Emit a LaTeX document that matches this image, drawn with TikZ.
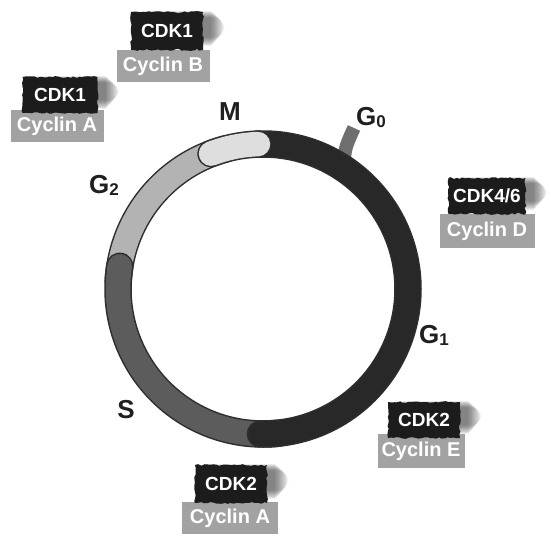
\documentclass[tikz,border=0pt]{standalone}
\usepackage{fontspec}
\setmainfont{Liberation Sans}
\usetikzlibrary{backgrounds,decorations.pathmorphing}
\definecolor{ringout}{HTML}{2E2E2E}
\definecolor{gone}{HTML}{282828}
\definecolor{sph}{HTML}{5C5C5C}
\definecolor{gtwo}{HTML}{B3B3B3}
\definecolor{mph}{HTML}{DEDEDE}
\definecolor{gzero}{HTML}{6E6E6E}
\definecolor{cdkbox}{HTML}{1C1C1C}
\definecolor{cycbox}{HTML}{A2A2A2}
\tikzset{
  phase/.style={font=\bfseries\fontsize{26}{26}\selectfont, text=black!88, inner sep=0pt},
  cdk/.style={fill=cdkbox, text=white, font=\bfseries\fontsize{19}{19}\selectfont, inner sep=0pt,
    decorate, decoration={random steps, segment length=3pt, amplitude=0.9pt}},
  cyc/.style={fill=cycbox, text=white, font=\bfseries\fontsize{20}{20}\selectfont, inner sep=0pt},
}
\newcommand{\ringseg}[3]{%
  \draw[line width=27.5pt, ringout, line cap=round] (#2:145pt) arc[start angle=#2, end angle=#3, radius=145pt];
  \draw[line width=24.5pt, #1, line cap=round] (#2:145pt) arc[start angle=#2, end angle=#3, radius=145pt];
}
\newcommand{\sub}[1]{\raisebox{-0.08em}{\fontsize{17}{17}\selectfont #1}}
% soft shadow behind a named node
\newcommand{\softshadow}[1]{%
  \foreach \k in {0,...,11}{
    \fill[black, opacity=0.05, rounded corners=\k pt]
      ([xshift=12pt-\k pt, yshift=1pt-0.6*\k pt]#1.north west) rectangle ([xshift=8pt+1.2*\k pt, yshift=4pt+0.8*\k pt]#1.south east);
  }%
}
\begin{document}
\begin{tikzpicture}[x=1pt,y=-1pt]
\useasboundingbox (0,0) rectangle (550,550);

\coordinate (c) at (263,289);
\coordinate (g0a) at (344,178);
\coordinate (g0b) at (354,128);
\draw[gzero, line width=13.5pt] (g0a) .. controls (344,150) .. (g0b);

\begin{scope}[shift={(c)}, x=1pt, y=1pt]
\ringseg{gtwo}{105}{176}
\ringseg{sph}{171}{276}
\ringseg{gone}{92}{-91}
\ringseg{mph}{92}{111}
\end{scope}

\node[phase, anchor=base] (m) at (230,120) {M};
\node[phase, anchor=base west] (g0) at (356,125) {G\sub{0}};
\node[phase, anchor=base west] (g2) at (89,193) {G\sub{2}};
\node[phase, anchor=base west] (g1) at (419,343) {G\sub{1}};
\node[phase, anchor=base] (s) at (126,418) {S};

% Cyclin B / CDK1
\node[cyc, minimum width=93pt, minimum height=32pt] (cycB) at (163,66) {Cyclin B};
\node[cdk, minimum width=72pt, minimum height=38pt] (cdk1b) at (167,31) {CDK1};
% Cyclin A / CDK1
\node[cyc, minimum width=93pt, minimum height=32pt] (cycA1) at (57,126) {Cyclin A};
\node[cdk, minimum width=75pt, minimum height=36pt] (cdk1a) at (60,95) {CDK1};
% Cyclin D / CDK4/6
\node[cyc, minimum width=95pt, minimum height=34pt] (cycD) at (487,231) {Cyclin D};
\node[cdk, minimum width=77pt, minimum height=36pt] (cdk46) at (487,196) {CDK4/6};
% Cyclin E / CDK2
\node[cyc, minimum width=87pt, minimum height=34pt] (cycE) at (421,451) {Cyclin E};
\node[cdk, minimum width=72pt, minimum height=36pt] (cdk2e) at (424,420) {CDK2};
% Cyclin A / CDK2
\node[cyc, minimum width=96pt, minimum height=32pt] (cycA2) at (230,518) {Cyclin A};
\node[cdk, minimum width=72pt, minimum height=38pt] (cdk2a) at (231,484) {CDK2};

\begin{scope}[on background layer]
\fill[white] (0,0) rectangle (550,550);
\foreach \n in {cdk1b,cdk1a,cdk46,cdk2e,cdk2a}{\softshadow{\n}}
\end{scope}
\end{tikzpicture}
\end{document}
